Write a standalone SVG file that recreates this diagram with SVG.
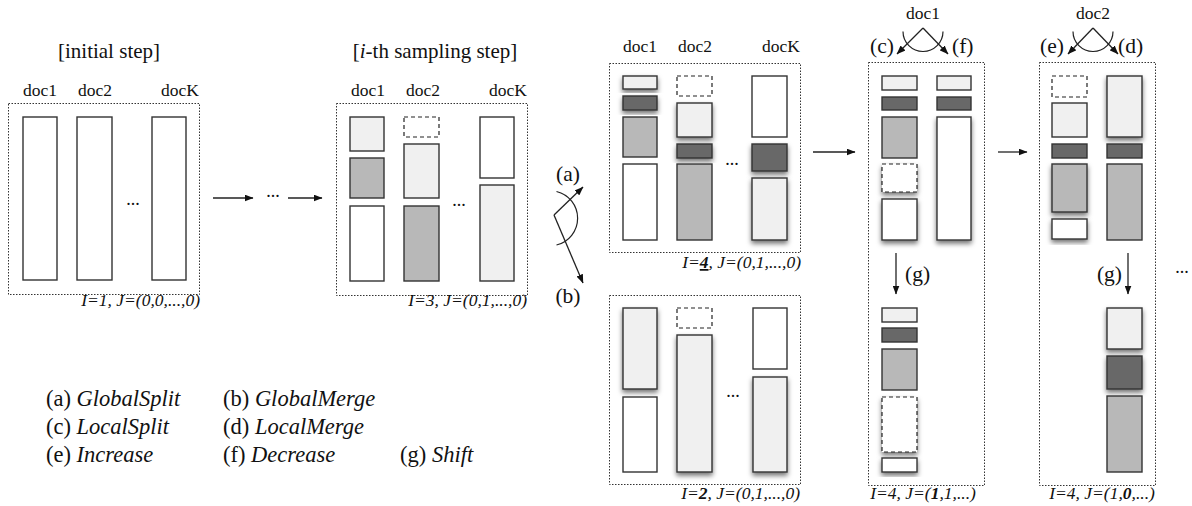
<svg xmlns="http://www.w3.org/2000/svg" width="1192" height="506" viewBox="0 0 1192 506">
  <style>
    text { font-family: "Liberation Serif", "Times New Roman", serif; fill: #111; }
    .title { font-size: 21px; }
    .doc { font-size: 17.5px; }
    .state { font-size: 17.5px; font-style: italic; }
    .op { font-size: 21.5px; }
    .leg { font-size: 22.5px; }
    .dots { font-size: 18px; }
    .it { font-style: italic; }
    .b { font-weight: bold; }
    .frame { fill: none; stroke: #333; stroke-width: 1; stroke-dasharray: 1.5 1.5; }
    .seg { stroke: #333; stroke-width: 1.4; }
    .w { fill: #ffffff; }
    .l { fill: #f0f0f0; }
    .g { fill: #b8b8b8; }
    .d { fill: #686868; }
    .empty { fill: #ffffff; stroke: #222; stroke-width: 1.2; stroke-dasharray: 4 3; }
    .sh { filter: url(#shadow); }
    .line { fill: none; stroke: #222; stroke-width: 1.3; }
    .arc { fill: none; stroke: #222; stroke-width: 1.2; }
  </style>
  <defs>
    <filter id="shadow" x="-30%" y="-30%" width="160%" height="160%">
      <feDropShadow dx="0" dy="3" stdDeviation="2.5" flood-color="#000" flood-opacity="0.55"/>
    </filter>
    <marker id="head" markerWidth="9" markerHeight="7" refX="8.5" refY="3.5" orient="auto" markerUnits="userSpaceOnUse">
      <path d="M0,0 L9,3.5 L0,7 z" fill="#111"/>
    </marker>
  </defs>

  <!-- initial step -->
  <g id="panel-initial">
    <text class="title" x="109" y="58" text-anchor="middle">[initial step]</text>
    <text class="doc" x="40" y="96" text-anchor="middle">doc1</text>
    <text class="doc" x="95" y="96" text-anchor="middle">doc2</text>
    <text class="doc" x="199" y="96" text-anchor="end">docK</text>
    <rect class="frame" x="8.5" y="103.5" width="191" height="191"/>
    <rect class="seg w" x="23" y="117" width="34" height="163"/>
    <rect class="seg w" x="77" y="117" width="35" height="163"/>
    <rect class="seg w" x="152" y="117" width="34" height="163"/>
    <text class="dots" x="133" y="205" text-anchor="middle">...</text>
    <text class="state" x="200" y="306" text-anchor="end">I=1, J=(0,0,...,0)</text>
  </g>

  <!-- i-th sampling step -->
  <g id="panel-ith">
    <text class="title" x="435" y="58" text-anchor="middle">[<tspan class="it">i</tspan>-th sampling step]</text>
    <text class="doc" x="368" y="96" text-anchor="middle">doc1</text>
    <text class="doc" x="423" y="96" text-anchor="middle">doc2</text>
    <text class="doc" x="527" y="96" text-anchor="end">docK</text>
    <rect class="frame" x="336.5" y="103.5" width="191" height="192"/>
    <rect class="seg l" x="350" y="117" width="34" height="34"/>
    <rect class="seg g" x="350" y="158" width="34" height="40"/>
    <rect class="seg w" x="350" y="206" width="34" height="75"/>
    <rect class="empty" x="404" y="117" width="35" height="20"/>
    <rect class="seg l" x="404" y="144" width="35" height="54"/>
    <rect class="seg g" x="404" y="206" width="35" height="75"/>
    <rect class="seg w" x="480" y="117" width="34" height="61"/>
    <rect class="seg l" x="480" y="185" width="34" height="96"/>
    <text class="dots" x="459" y="206" text-anchor="middle">...</text>
    <text class="state" x="527" y="306" text-anchor="end">I=3, J=(0,1,...,0)</text>
  </g>

  <!-- (a) GlobalSplit result -->
  <g id="panel-split">
    <text class="doc" x="640" y="52" text-anchor="middle">doc1</text>
    <text class="doc" x="695" y="52" text-anchor="middle">doc2</text>
    <text class="doc" x="800" y="52" text-anchor="end">docK</text>
    <rect class="frame" x="609.5" y="63.5" width="191" height="189"/>
    <rect class="seg l sh" x="623" y="76" width="34" height="13"/>
    <rect class="seg d sh" x="623" y="96" width="34" height="14"/>
    <rect class="seg g" x="623" y="117" width="34" height="40"/>
    <rect class="seg w" x="623" y="164" width="34" height="76"/>
    <rect class="empty" x="677" y="76" width="35" height="20"/>
    <rect class="seg l sh" x="677" y="103" width="35" height="34"/>
    <rect class="seg d sh" x="677" y="144" width="35" height="14"/>
    <rect class="seg g" x="677" y="164" width="35" height="76"/>
    <rect class="seg w" x="752" y="76" width="35" height="61"/>
    <rect class="seg d sh" x="752" y="144" width="35" height="27"/>
    <rect class="seg l sh" x="752" y="178" width="35" height="62"/>
    <text class="dots" x="732" y="165" text-anchor="middle">...</text>
    <text class="state" x="801" y="268" text-anchor="end">I=<tspan class="b" text-decoration="underline">4</tspan>, J=(0,1,...,0)</text>
  </g>

  <!-- (b) GlobalMerge result -->
  <g id="panel-merge">
    <rect class="frame" x="609.5" y="295.5" width="191" height="189"/>
    <rect class="seg l sh" x="623" y="308" width="34" height="81"/>
    <rect class="seg w" x="623" y="397" width="34" height="75"/>
    <rect class="empty" x="677" y="308" width="35" height="20"/>
    <rect class="seg l sh" x="677" y="335" width="35" height="137"/>
    <rect class="seg w" x="753" y="308" width="34" height="61"/>
    <rect class="seg l sh" x="753" y="377" width="34" height="95"/>
    <text class="dots" x="733" y="397" text-anchor="middle">...</text>
    <text class="state" x="800" y="499" text-anchor="end">I=<tspan class="b">2</tspan>, J=(0,1,...,0)</text>
  </g>

  <!-- doc1: (c) LocalSplit / (f) Decrease, then (g) Shift -->
  <g id="panel-doc1">
    <text class="doc" x="923" y="19" text-anchor="middle">doc1</text>
    <text class="op" x="870" y="53">(c)</text>
    <text class="op" x="952" y="53">(f)</text>
    <rect class="frame" x="868.5" y="62.5" width="116" height="423"/>
    <rect class="seg l" x="882" y="76" width="35" height="14"/>
    <rect class="seg d" x="882" y="97" width="35" height="13"/>
    <rect class="seg g" x="882" y="117" width="35" height="41"/>
    <rect class="empty sh" x="882" y="164" width="35" height="28"/>
    <rect class="seg w sh" x="882" y="199" width="35" height="41"/>
    <rect class="seg l" x="937" y="76" width="34" height="14"/>
    <rect class="seg d" x="937" y="97" width="34" height="13"/>
    <rect class="seg w sh" x="937" y="117" width="34" height="123"/>
    <text class="op" x="905" y="281">(g)</text>
    <rect class="seg l" x="882" y="308" width="35" height="14"/>
    <rect class="seg d" x="882" y="328" width="35" height="14"/>
    <rect class="seg g" x="882" y="349" width="35" height="41"/>
    <rect class="empty sh" x="882" y="397" width="35" height="55"/>
    <rect class="seg w sh" x="882" y="458" width="35" height="14"/>
    <text class="state" x="923" y="499" text-anchor="middle">I=4, J=(<tspan class="b">1</tspan>,1,...)</text>
  </g>

  <!-- doc2: (e) Increase / (d) LocalMerge, then (g) Shift -->
  <g id="panel-doc2">
    <text class="doc" x="1093" y="19" text-anchor="middle">doc2</text>
    <text class="op" x="1040" y="53">(e)</text>
    <text class="op" x="1118" y="53">(d)</text>
    <rect class="frame" x="1039.5" y="62.5" width="116" height="423"/>
    <rect class="empty" x="1052" y="76" width="35" height="21"/>
    <rect class="seg l" x="1052" y="103" width="35" height="34"/>
    <rect class="seg d" x="1052" y="144" width="35" height="14"/>
    <rect class="seg g sh" x="1052" y="164" width="35" height="48"/>
    <rect class="seg w sh" x="1052" y="219" width="35" height="20"/>
    <rect class="seg l sh" x="1107" y="76" width="35" height="61"/>
    <rect class="seg d" x="1107" y="144" width="35" height="14"/>
    <rect class="seg g" x="1107" y="164" width="35" height="76"/>
    <text class="op" x="1122" y="281" text-anchor="end">(g)</text>
    <rect class="seg l sh" x="1107" y="308" width="35" height="41"/>
    <rect class="seg d sh" x="1107" y="356" width="35" height="33"/>
    <rect class="seg g" x="1107" y="396" width="35" height="76"/>
    <text class="state" x="1102" y="499" text-anchor="middle">I=4, J=(1,<tspan class="b">0</tspan>,...)</text>
  </g>

  <!-- operation labels between steps -->
  <g id="op-labels">
    <text class="op" x="568" y="181" text-anchor="middle">(a)</text>
    <text class="op" x="568" y="303" text-anchor="middle">(b)</text>
    <text class="dots" x="273" y="197" text-anchor="middle">...</text>
    <text class="dots" x="1182" y="273" text-anchor="middle">...</text>
  </g>

  <!-- legend -->
  <g id="legend">
    <text class="leg" x="46" y="406">(a) <tspan class="it">GlobalSplit</tspan></text>
    <text class="leg" x="223" y="406">(b) <tspan class="it">GlobalMerge</tspan></text>
    <text class="leg" x="46" y="434">(c) <tspan class="it">LocalSplit</tspan></text>
    <text class="leg" x="223" y="434">(d) <tspan class="it">LocalMerge</tspan></text>
    <text class="leg" x="46" y="462">(e) <tspan class="it">Increase</tspan></text>
    <text class="leg" x="223" y="462">(f) <tspan class="it">Decrease</tspan></text>
    <text class="leg" x="400" y="462">(g) <tspan class="it">Shift</tspan></text>
  </g>

  <!-- connectors -->
  <g id="connectors">
    <line class="line" x1="213" y1="198" x2="253" y2="198" marker-end="url(#head)"/>
    <line class="line" x1="288" y1="198" x2="322" y2="198" marker-end="url(#head)"/>
    <!-- (a) / (b) fork -->
    <line class="line" x1="554" y1="215" x2="583" y2="187" marker-end="url(#head)"/>
    <line class="line" x1="554" y1="215" x2="583" y2="283" marker-end="url(#head)"/>
    <path class="arc" d="M556.5,191.5 A27.5 27.5 0 0 1 556.5,245"/>
    <line class="line" x1="813" y1="152" x2="855" y2="152" marker-end="url(#head)"/>
    <line class="line" x1="998" y1="152" x2="1027" y2="152" marker-end="url(#head)"/>
    <!-- (c) / (f) fork -->
    <line class="line" x1="923" y1="28" x2="897" y2="54" marker-end="url(#head)"/>
    <line class="line" x1="923" y1="28" x2="948" y2="54" marker-end="url(#head)"/>
    <path class="arc" d="M903,31.5 A20 20 0 0 0 943,31.5"/>
    <!-- (e) / (d) fork -->
    <line class="line" x1="1093" y1="28" x2="1068" y2="54" marker-end="url(#head)"/>
    <line class="line" x1="1093" y1="28" x2="1118" y2="54" marker-end="url(#head)"/>
    <path class="arc" d="M1073,31.5 A20 20 0 0 0 1113,31.5"/>
    <!-- (g) shifts -->
    <line class="line" x1="896" y1="253" x2="896" y2="294" marker-end="url(#head)"/>
    <line class="line" x1="1128" y1="253" x2="1128" y2="294" marker-end="url(#head)"/>
  </g>
</svg>
